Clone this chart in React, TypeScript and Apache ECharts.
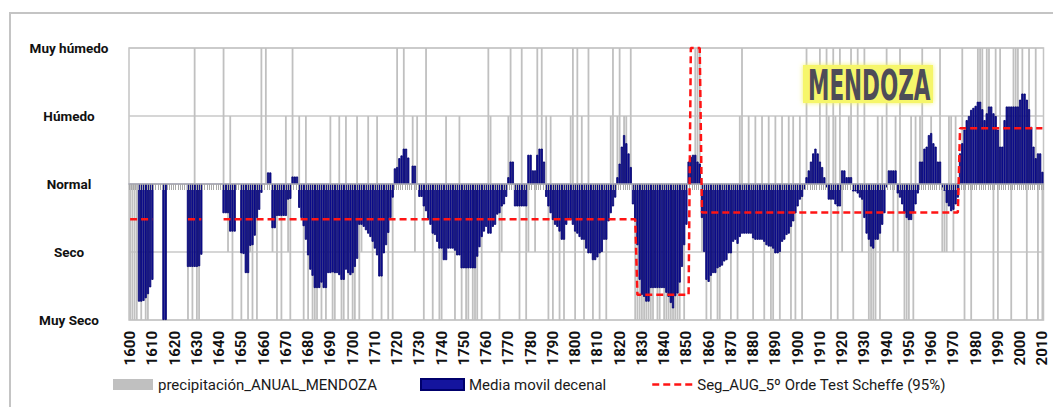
import React, { useEffect, useRef } from "react";
import * as echarts from "echarts";

const N = null;

// Categories: years 1600..2010
const years: string[] = [];
for (let y = 1600; y <= 2010; y++) years.push(String(y));

// Y levels (value -> label)
const levelValues = [-2, -1, 0, 1, 2];
const levelLabels = ["Muy Seco", "Seco", "Normal", "Húmedo", "Muy húmedo"];

// Annual classification (gray bars), one row per decade
const annualClass: number[] = [
  -2, -2, -2, -2, 0, -2, 0, -2, -2, 0, // 1600
  0, 0, 0, 0, 0, -2, 0, 0, 0, 0, // 1610
  0, 0, 0, 0, 0, 0, -2, 0, -2, 2, // 1620
  -2, -2, 0, 0, 0, 0, 0, 0, 0, 0, // 1630
  0, 0, 2, 0, -1, 1, -2, 0, 0, 0, // 1640
  -2, -1, 0, -2, -1, -2, 0, -2, 0, 2, // 1650
  0, 2, 0, 0, -1, 0, -2, 0, -2, 0, // 1660
  1, -1, -2, 2, 0, 0, 1, 0, -2, 1, // 1670
  -2, 0, -2, -2, -2, 0, -2, 0, -2, 0, // 1680
  1, -2, -2, 0, 1, -2, -2, 1, -2, -1, // 1690
  -2, -2, 1, -2, -1, 0, 0, 1, 0, -2, // 1700
  0, 1, 0, -2, 0, 0, -2, 0, -2, 0, // 1710
  2, 0, 0, 2, 0, 0, 0, 1, -1, 1, // 1720
  0, 0, -2, 2, 0, 0, -2, 0, 0, -2, // 1730
  -2, 0, 1, 0, 0, 0, -2, 0, 1, -2, // 1740
  0, -2, -2, 0, -2, -2, -2, 0, -2, 0, // 1750
  0, 2, 1, 0, 0, 0, -2, -1, 0, 0, // 1760
  1, 2, 0, 0, 0, -2, 2, 0, -2, -1, // 1770
  0, 0, -1, 2, 0, 2, 0, 1, -2, 1, // 1780
  -2, 0, 0, -2, 0, -2, 0, 0, 1, 2, // 1790
  -2, 2, 0, 1, -2, 0, 2, 0, -2, 0, // 1800
  -1, -2, 0, 0, -2, 0, 1, 2, 0, 1, // 1810
  2, 0, 1, 1, 0, 2, 0, -2, -2, -2, // 1820
  -2, -2, -2, -2, -2, -2, 0, -2, -2, 0, // 1830
  -2, -2, -2, -2, -2, -2, -2, -2, 0, -2, // 1840
  0, 0, 0, 0, 2, 2, 2, -1, 0, -2, // 1850
  0, -2, 0, 0, -2, -2, 0, 0, 0, 0, // 1860
  -2, 0, 0, -2, 1, 2, 0, 0, 1, 0, // 1870
  -2, 1, 0, 0, 1, -2, 0, 1, -2, -2, // 1880
  1, 0, -2, 1, 0, 0, 1, -2, 1, -2, // 1890
  0, 1, -2, 0, 2, 0, 0, 0, 0, 0, // 1900
  2, 0, 0, 2, 1, -2, 2, 1, -2, 2, // 1910
  -1, 0, 0, 1, 2, -2, 0, 2, 0, -1, // 1920
  2, 0, -2, -2, -2, -2, 1, -2, 1, 0, // 1930
  2, 0, 0, -1, 1, -1, 2, 0, -2, -2, // 1940
  -2, 1, -2, 1, 0, 1, 2, 0, 0, 0, // 1950
  1, 0, 0, 0, 2, -1, -1, -1, 1, 1, // 1960
  -1, 1, 0, 0, 2, -2, 0, 0, -2, 0, // 1970
  0, 2, 2, 2, 0, 2, 2, 0, -2, 2, // 1980
  -2, 2, 0, 0, 0, 0, -2, 2, 2, 2, // 1990
  0, 2, 0, -2, 2, 0, 0, 2, -2, 0, // 2000
  -2, // 2010
];

// Decadal moving average (blue bars), one row per decade
const movingAverage: (number | null)[] = [
  N, N, N, N, -1.73, -1.73, -1.72, -1.68, -1.62, -1.52, // 1600
  -1.41, N, N, N, N, -2, -2, N, N, N, // 1610
  N, N, N, N, N, N, -1.22, -1.22, -1.22, -1.22, // 1620
  -1.22, -1.21, -1.04, N, N, N, N, N, N, N, // 1630
  N, N, -0.43, -0.43, -0.43, -0.7, -0.7, -0.7, N, N, // 1640
  -1.02, -1.03, -1.31, -1.31, -0.91, -0.9, -0.76, -0.5, -0.38, -0.13, // 1650
  N, N, 0.17, 0.17, -0.65, -0.65, -0.47, -0.47, -0.47, -0.47, // 1660
  -0.47, -0.23, -0.22, 0.11, 0.11, 0.11, -0.35, -0.5, -0.62, -0.82, // 1670
  -1.05, -1.26, -1.35, -1.53, -1.53, -1.53, -1.45, -1.53, -1.53, -1.31, // 1680
  -1.31, -1.3, -1.31, -1.31, -1.34, -1.41, -1.41, -1.26, -1.31, -1.34, // 1690
  -1.31, -1.22, -1.1, -0.6, -0.6, -0.63, -0.68, -0.73, -0.78, -0.85, // 1700
  -0.95, -1.05, -1.36, -1.36, -1.02, -0.9, -0.72, -0.5, -0.2, 0.23, // 1710
  0.25, 0.38, 0.42, 0.52, 0.52, 0.39, N, 0.27, 0.27, N, // 1720
  -0.19, -0.19, -0.33, -0.4, -0.53, -0.6, -0.73, -0.75, -0.85, -0.95, // 1730
  -0.95, -1.12, -1.12, -0.95, -0.95, -0.95, -0.98, -1.05, -1.05, -1.24, // 1740
  -1.24, -1.24, -1.24, -1.24, -1.24, -1.24, -1.07, -0.93, -0.78, -0.7, // 1750
  -0.63, -0.73, -0.73, -0.63, -0.6, -0.45, -0.43, -0.33, -0.3, -0.19, // 1760
  0.1, 0.33, 0.33, -0.33, -0.33, -0.33, -0.33, -0.33, -0.33, 0.43, // 1770
  0.43, 0.2, 0.2, 0.43, 0.52, 0.52, 0.33, -0.19, -0.33, -0.43, // 1780
  -0.53, -0.6, -0.63, -0.7, -0.82, -0.82, -0.6, -0.53, -0.53, -0.6, // 1790
  -0.7, -0.73, -0.78, -0.82, -0.82, -0.95, -1.02, -1.02, -1.12, -1.12, // 1800
  -1.08, -1.02, -1.0, -0.82, -0.82, -0.55, -0.43, -0.33, -0.2, 0.1, // 1810
  0.3, 0.55, 0.72, 0.6, 0.45, 0.25, -0.3, -0.55, -0.9, -1.41, // 1820
  -1.63, -1.66, -1.73, -1.73, -1.53, -1.53, -1.53, -1.53, -1.53, -1.53, // 1830
  -1.53, -1.6, -1.66, -1.75, -1.83, -1.65, -1.61, -1.45, -1.22, -0.9, // 1840
  -0.6, 0.33, 0.4, 0.43, 0.43, 0.33, 0.3, -0.5, -1.0, -1.41, // 1850
  -1.44, -1.35, -1.31, -1.31, -1.24, -1.22, -1.2, -1.14, -1.12, -1.02, // 1860
  -1.02, -0.85, -0.82, -0.88, -0.78, -0.73, -0.73, -0.73, -0.73, -0.73, // 1870
  -0.8, -0.82, -0.82, -0.82, -0.82, -0.85, -0.9, -0.92, -0.92, -0.95, // 1880
  -1.02, -1.02, -1.0, -0.85, -0.82, -0.75, -0.73, -0.63, -0.55, -0.43, // 1890
  -0.33, -0.23, -0.19, -0.08, 0.1, 0.2, 0.33, 0.45, 0.52, 0.45, // 1900
  0.33, 0.25, 0.1, -0.05, -0.23, -0.23, -0.23, -0.3, -0.33, -0.33, // 1910
  0.2, 0.2, 0.1, 0.1, 0.1, -0.11, -0.11, -0.14, -0.2, -0.23, // 1920
  -0.5, -0.73, -0.82, -0.92, -0.95, -0.82, -0.82, -0.73, -0.6, -0.43, // 1930
  -0.05, 0.2, 0.2, 0.2, 0.2, -0.14, -0.2, -0.3, -0.43, -0.5, // 1940
  -0.53, -0.53, -0.43, -0.3, -0.14, 0.33, 0.33, 0.52, 0.55, 0.72, // 1950
  0.75, 0.6, 0.55, 0.33, 0.33, -0.05, -0.1, -0.28, -0.33, -0.4, // 1960
  -0.38, -0.3, -0.2, 0.45, 0.6, 0.8, 0.94, 1.0, 1.09, 1.12, // 1970
  1.15, 1.21, 1.21, 1.1, 0.94, 1.04, 1.14, 1.14, 1.04, 1.0, // 1980
  0.8, 0.55, 0.55, 0.94, 1.14, 1.14, 1.14, 1.14, 1.14, 1.14, // 1990
  1.24, 1.33, 1.33, 1.24, 1.1, 0.84, 0.55, 0.38, 0.45, 0.45, // 2000
  0.18, // 2010
];

// Scheffe segments (red dashed line): first year, last year, level
const segFirstYear = [1600, 1626, 1642, 1828, 1852, 1857, 1973];
const segLastYear = [1610, 1632, 1827, 1851, 1856, 1972, 2010];
const segLevel = [-0.52, -0.52, -0.52, -1.63, 2, -0.42, 0.82];

const segmentLine: (number | null)[] = years.map(() => null);
segFirstYear.forEach((first, k) => {
  for (let y = first; y <= segLastYear[k]; y++) segmentLine[y - 1600] = segLevel[k];
});

const FONT = "Roboto, 'Noto Sans', sans-serif";

export default function App() {
  const ref = useRef<HTMLDivElement>(null);
  useEffect(() => {
    if (!ref.current) return;
    const chart = echarts.init(ref.current, undefined, { renderer: "svg" });
    const legendText = { fontFamily: FONT, fontSize: 15, color: "#1a1a1a" };
    chart.setOption({
      animation: false,
      backgroundColor: "#ffffff",
      grid: {
        left: 129,
        right: 9.5,
        top: 48,
        bottom: 87,
        show: true,
        borderColor: "#c4c4c4",
        borderWidth: 1.5,
        backgroundColor: "transparent",
        containLabel: false,
        outerBoundsMode: "none",
      },
      xAxis: [
        {
          type: "category",
          data: years,
          position: "top",
          z: 3,
          axisLine: { onZero: true, lineStyle: { color: "#a4a4b4", width: 1.5 } },
          axisTick: { show: true, inside: true, interval: 0, length: 6, lineStyle: { color: "#a8a8a8", width: 1 } },
          axisLabel: { show: false },
          splitLine: { show: false },
        },
        {
          type: "category",
          data: years,
          position: "bottom",
          axisLine: { show: false, onZero: false },
          axisTick: { show: false },
          splitLine: { show: false },
          axisLabel: {
            interval: 9,
            rotate: 90,
            margin: 11,
            fontFamily: FONT,
            fontWeight: "bold",
            fontSize: 15,
            color: "#111",
          },
        },
      ],
      yAxis: {
        type: "value",
        min: -2,
        max: 2,
        interval: 1,
        axisLine: { show: false },
        axisTick: { show: false },
        splitLine: { lineStyle: { color: "#c8c8c8", width: 1.5 } },
        axisLabel: {
          formatter: (v: number) => levelLabels[levelValues.indexOf(v)] ?? "",
          align: "center",
          margin: 60,
          fontFamily: FONT,
          fontWeight: "bold",
          fontSize: 13.5,
          color: "#111",
        },
      },
      legend: [
        {
          data: [{ name: "precipitación_ANUAL_MENDOZA", icon: "rect" }],
          left: 113,
          top: 377,
          padding: 0,
          itemWidth: 40,
          itemHeight: 11,
          textStyle: legendText,
        },
        {
          data: [{ name: "Media movil decenal", icon: "rect" }],
          left: 420,
          top: 377,
          padding: 0,
          itemWidth: 43,
          itemHeight: 11,
          textStyle: legendText,
        },
        {
          data: ["Seg_AUG_5º Orde Test Scheffe (95%)"],
          left: 651,
          top: 377,
          padding: 0,
          itemWidth: 40,
          itemHeight: 11,
          itemStyle: { opacity: 0 },
          lineStyle: { width: 2.5, type: [7, 4], color: "#ff1414" },
          textStyle: legendText,
        },
      ],
      series: [
        {
          name: "precipitación_ANUAL_MENDOZA",
          type: "bar",
          xAxisIndex: 1,
          data: annualClass,
          barWidth: 1.8,
          itemStyle: { color: "#c0c0c0" },
          z: 1,
        },
        {
          name: "Media movil decenal",
          type: "bar",
          xAxisIndex: 0,
          data: movingAverage,
          barWidth: "100%",
          itemStyle: { color: "#14149e", borderColor: "#00006c", borderWidth: 0.8 },
          z: 2,
        },
        {
          name: "Seg_AUG_5º Orde Test Scheffe (95%)",
          type: "line",
          xAxisIndex: 0,
          data: segmentLine,
          symbol: "none",
          connectNulls: false,
          clip: false,
          lineStyle: { color: "#ff1414", width: 2.5, type: [7, 4] },
          itemStyle: { color: "#ff1414" },
          z: 5,
        },
      ],
      graphic: [
        {
          type: "rect",
          shape: { x: 10, y: 13, width: 1070, height: 420 },
          style: { fill: "none", stroke: "#c4c4c4", lineWidth: 2 },
          z: 0,
        },
        {
          type: "rect",
          shape: { x: 803, y: 65, width: 130, height: 38 },
          style: { fill: "#f6f66a", shadowBlur: 5, shadowColor: "#f4f46a" },
          z: 10,
        },
        {
          type: "text",
          x: 808,
          y: 85,
          scaleX: 0.5,
          style: {
            text: "MENDOZA",
            fontFamily: "DejaVu Sans",
            fontWeight: "bold",
            fontSize: 43,
            fill: "#4e4c58",
            align: "left",
            verticalAlign: "middle",
          },
          z: 11,
        },
      ],
    });
    return () => chart.dispose();
  }, []);
  return (
    <div
      ref={ref}
      style={{ position: "absolute", left: 0, top: 0, width: 1053, height: 407 }}
    />
  );
}
